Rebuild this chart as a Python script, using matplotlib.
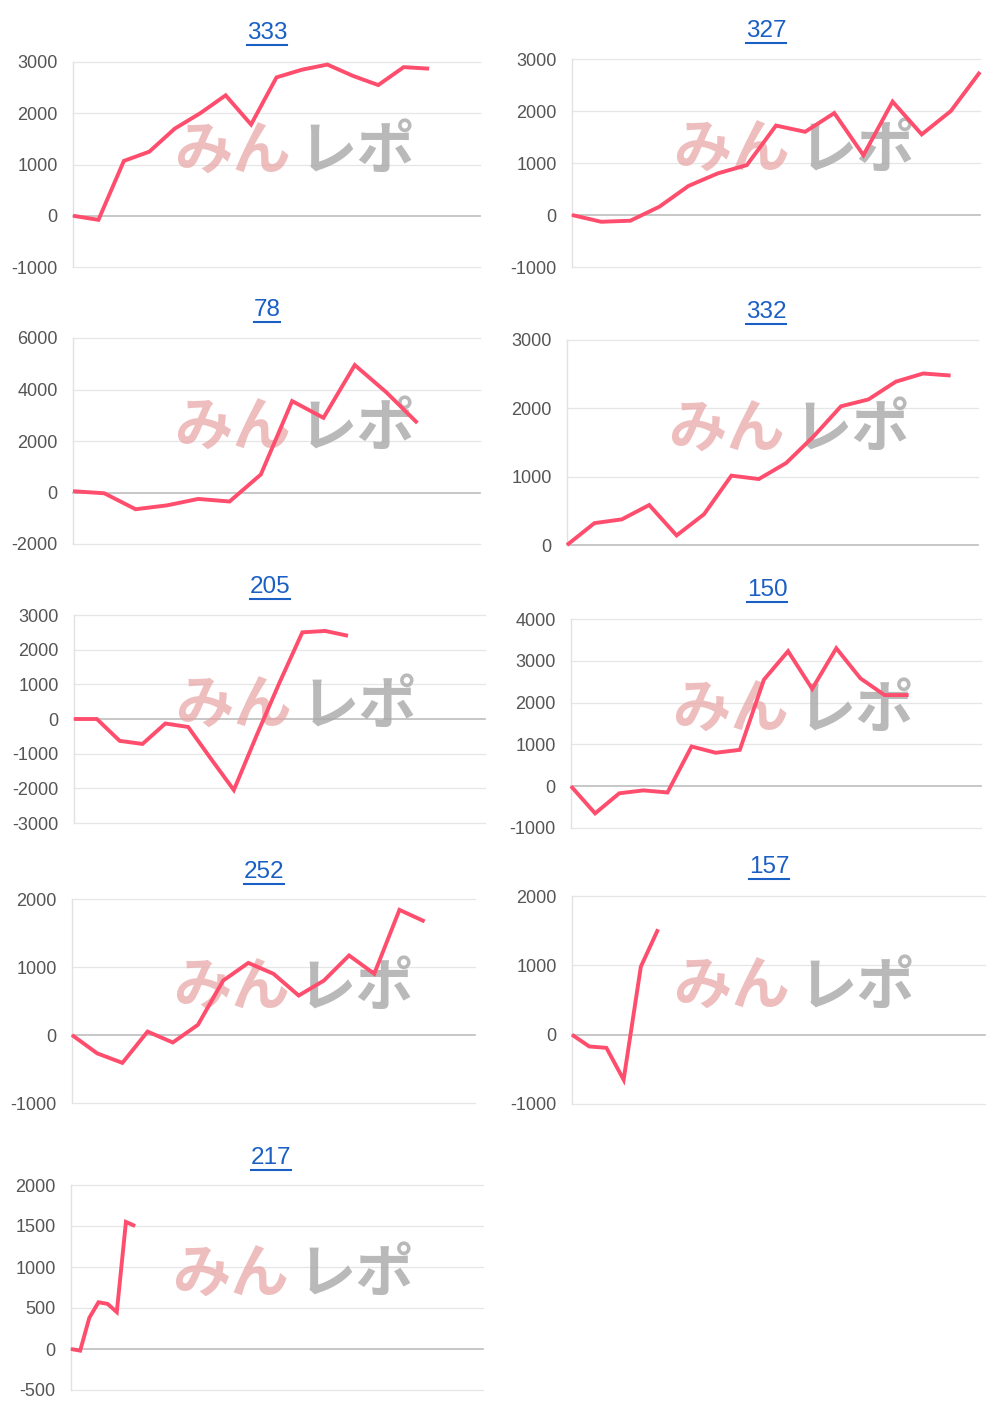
import matplotlib
matplotlib.use("Agg")
import matplotlib.pyplot as plt
from matplotlib.lines import Line2D

plt.rcParams['font.family'] = ['Liberation Sans', 'Noto Sans CJK JP', 'DejaVu Sans']

titles = ["333", "327", "78", "332", "205", "150", "252", "157", "217"]

s333 = [0, -80, 1070, 1250, 1700, 2000, 2350, 1780, 2700, 2850, 2950, 2730, 2550, 2900, 2870]
s327 = [0, -130, -110, 160, 560, 800, 960, 1720, 1600, 1960, 1150, 2180, 1550, 2000, 2750]
s78 = [50, -30, -650, -500, -250, -350, 700, 3550, 2900, 4950, 3900, 2700]
s332 = [0, 320, 375, 585, 140, 450, 1015, 965, 1200, 1590, 2030, 2130, 2390, 2510, 2480]
s205 = [0, 0, -630, -720, -130, -230, -1150, -2050, -470, 1050, 2500, 2540, 2400]
s150 = [0, -650, -170, -100, -150, 950, 800, 870, 2550, 3230, 2330, 3300, 2580, 2180, 2180]
s252 = [0, -270, -410, 50, -110, 150, 800, 1060, 900, 580, 800, 1170, 900, 1840, 1670]
s157 = [0, -170, -190, -650, 980, 1520]
s217 = [0, -20, 380, 570, 550, 450, 1550, 1500]

series = [s333, s327, s78, s332, s205, s150, s252, s157, s217]
xmax = [16, 14, 13, 15, 18, 17, 16, 24, 45]
yticks = [
    [-1000, 0, 1000, 2000, 3000],
    [-1000, 0, 1000, 2000, 3000],
    [-2000, 0, 2000, 4000, 6000],
    [0, 1000, 2000, 3000],
    [-3000, -2000, -1000, 0, 1000, 2000, 3000],
    [-1000, 0, 1000, 2000, 3000, 4000],
    [-1000, 0, 1000, 2000],
    [-1000, 0, 1000, 2000],
    [-500, 0, 500, 1000, 1500, 2000],
]
# pixel boxes: left, right, top, bottom ; title x, title y
boxes = [
    (73, 480, 62, 267, 267, 33),
    (572, 980, 59, 267, 766, 31),
    (73, 480, 338, 544, 267, 310),
    (567, 978, 340, 545, 766, 312),
    (74, 485, 615, 823, 270, 587),
    (571, 981, 619, 828, 767, 590),
    (72, 475, 899, 1103, 264, 872),
    (572, 985, 896, 1104, 769, 867),
    (71, 483, 1185, 1390, 271, 1158),
]

W, H = 1000, 1416
fig = plt.figure(figsize=(W / 100, H / 100), dpi=100)
fig.patch.set_facecolor('white')

title_texts = []
for t, s, xm, yt, (l, r, tp, bt, tx, ty) in zip(titles, series, xmax, yticks, boxes):
    ax = fig.add_axes([l / W, 1 - bt / H, (r - l) / W, (bt - tp) / H])
    ax.set_xlim(0, xm)
    ax.set_ylim(yt[0], yt[-1])
    ax.set_yticks(yt)
    ax.set_yticklabels([str(v) for v in yt])
    ax.set_xticks([])
    for sp in ['top', 'right', 'bottom']:
        ax.spines[sp].set_visible(False)
    ax.spines['left'].set_color('#e2e2e2')
    ax.spines['left'].set_linewidth(1)
    ax.tick_params(axis='y', length=0, pad=11, labelsize=13, labelcolor='#555555')
    for v in yt:
        ax.axhline(v, color='#bdbdbd' if v == 0 else '#e6e6e6',
                   lw=1.2 if v == 0 else 0.9, zorder=0, clip_on=False)
    # watermark
    wx = 222 / (r - l)
    ax.text(wx - 0.01, 0.56, "みん", transform=ax.transAxes, fontsize=42, fontweight='bold',
            color='#e8a3a3', alpha=0.7, ha='right', va='center',
            family=['Noto Sans CJK JP'], zorder=1)
    ax.text(wx + 0.01, 0.56, "レポ", transform=ax.transAxes, fontsize=42, fontweight='bold',
            color='#a8a8a8', alpha=0.8, ha='left', va='center',
            family=['Noto Sans CJK JP'], zorder=1)
    ax.plot(range(len(s)), s, color='#ff4d6d', lw=2.8, solid_joinstyle='miter',
            solid_capstyle='butt', zorder=3, clip_on=False)
    tt = fig.text(tx / W, 1 - ty / H, t, ha='center', va='center', fontsize=17.5,
                  color='#1a5fc4')
    title_texts.append(tt)

fig.canvas.draw()
rend = fig.canvas.get_renderer()
for tt in title_texts:
    bb = tt.get_window_extent(rend)
    y = (bb.y0 - 1) / H
    fig.lines.append(Line2D([bb.x0 / W, bb.x1 / W], [y, y], color='#1a5fc4', lw=1.5,
                            transform=fig.transFigure))

fig.savefig("out.png", dpi=100, facecolor='white')
